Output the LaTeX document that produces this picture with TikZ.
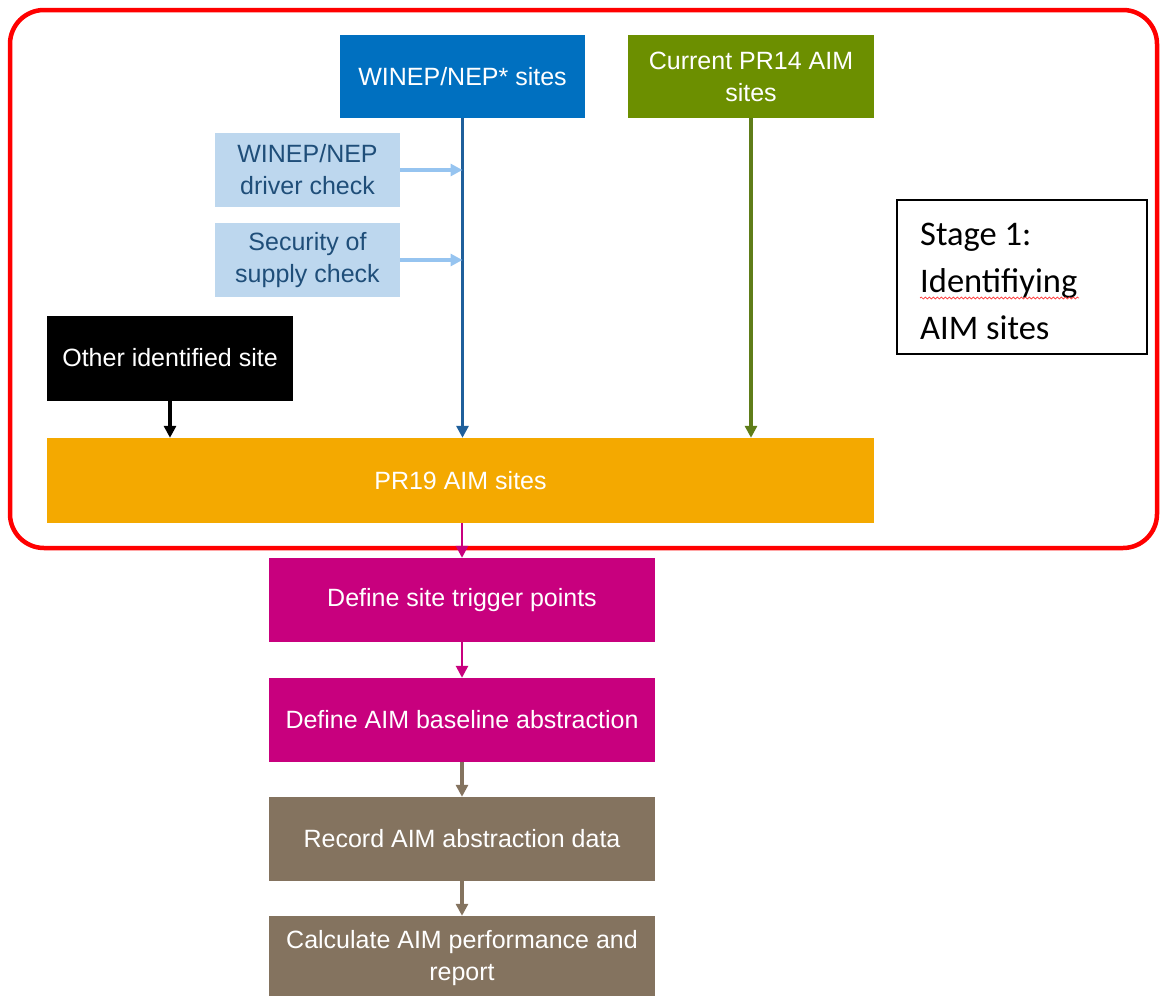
\documentclass[tikz,border=0pt]{standalone}
\usepackage{fontspec}
\setmainfont{Liberation Sans}
\newfontfamily\calibri{Carlito}
\usetikzlibrary{arrows.meta,decorations.pathmorphing}
\definecolor{cBlue}{RGB}{0,112,192}
\definecolor{cGreen}{RGB}{108,143,0}
\definecolor{cLight}{RGB}{189,215,238}
\definecolor{cLightTxt}{RGB}{31,78,121}
\definecolor{cLightLine}{RGB}{150,196,240}
\definecolor{cOrange}{RGB}{244,169,0}
\definecolor{cMag}{RGB}{200,0,126}
\definecolor{cBrown}{RGB}{132,115,95}
\definecolor{cBlueLine}{RGB}{31,95,155}
\definecolor{cGreenLine}{RGB}{95,125,25}
\tikzset{
  x=1pt, y=-1pt,
  boxbase/.style={rectangle, inner sep=0pt, align=center, font=\fontsize{25}{32}\selectfont},
  filled/.style={boxbase, fill=#1, text=white},
  lightbox/.style={boxbase, fill=cLight, text=cLightTxt, minimum width=185pt, minimum height=74pt},
  colbox/.style={filled=#1, minimum width=386pt, minimum height=84pt},
  conn/.style={draw=#1, line width=3.2pt, -{Triangle[length=12pt,width=12pt]}},
}
\begin{document}
\begin{tikzpicture}
\useasboundingbox (0,0) rectangle (1160,996);
\clip (0,0) rectangle (1160,996);
% red frame
\draw[red, line width=4.5pt, rounded corners=34pt] (10,10) rectangle (1157,548);
% top boxes
\node[filled=cBlue, minimum width=245pt, minimum height=83pt] (win) at (462.5,76.5) {WINEP/NEP* sites};
\node[filled=cGreen, minimum width=246pt, minimum height=83pt] (pr14) at (751,76.5) {Current PR14 AIM\\sites};
\node[lightbox] (drv) at (307.5,170) {WINEP/NEP\\driver check};
\node[lightbox] (sec) at (307.5,260) {Security of\\supply check};
\node[filled=black, minimum width=246pt, minimum height=85pt] (oth) at (170,358) {Other identified site};
\node[filled=cOrange, minimum width=827pt, minimum height=85pt] (pr19) at (460.5,480.5) {PR19 AIM sites};
% stage box
\node[draw=black, line width=1.2pt, minimum width=250pt, minimum height=154pt] (stage) at (1022,277) {};
\node[anchor=west, align=left, inner sep=0pt, font=\calibri\fontsize{34.5}{47}\selectfont] (stagetxt) at (920,281) {Stage 1:\\Identifiying\\AIM sites};
\draw[red!80, line width=0.7pt, decorate, decoration={snake, amplitude=1pt, segment length=4pt}] (920,298) -- (1079,298);
% lower column
\node[colbox=cMag] (trig) at (462,600) {Define site trigger points};
\node[colbox=cMag] (base) at (462,720) {Define AIM baseline abstraction};
\node[colbox=cBrown] (rec) at (462,839) {Record AIM abstraction data};
\node[colbox=cBrown, minimum height=84pt] (calc) at (462,958) {Calculate AIM performance and\\report};
% connectors
\draw[conn=cBlueLine] (win.south) -- (win.south |- pr19.north);
\draw[conn=cLightLine] (drv.east) -- (drv.east -| win.south);
\draw[conn=cLightLine] (sec.east) -- (sec.east -| win.south);
\draw[conn=cGreenLine] (pr14.south) -- (pr14.south |- pr19.north);
\draw[conn=black] (oth.south) -- (oth.south |- pr19.north);
\draw[conn=cMag, line width=2.6pt] (pr19.south -| trig.north) -- (trig.north);
\draw[conn=cMag, line width=2.6pt] (trig.south) -- (base.north);
\draw[conn=cBrown] (base.south) -- (rec.north);
\draw[conn=cBrown] (rec.south) -- (calc.north);
\end{tikzpicture}
\end{document}
